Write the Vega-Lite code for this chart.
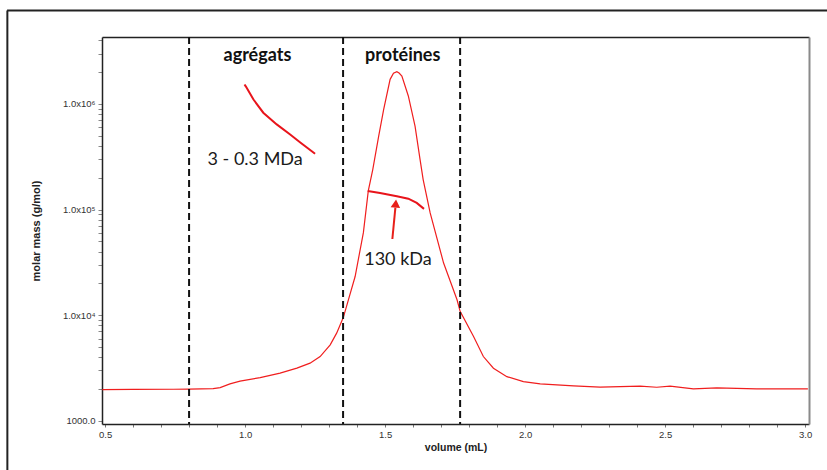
{
  "$schema": "https://vega.github.io/schema/vega-lite/v6.json",
  "width": 707,
  "height": 387,
  "autosize": "none",
  "padding": {"left": 102, "top": 37, "right": 18, "bottom": 46},
  "background": "white",
  "config": {"view": {"stroke": null}, "font": "Liberation Sans"},
  "datasets": {
    "signal": [
      {"volume": 0.49, "mass": 1970}, {"volume": 0.6, "mass": 1975}, {"volume": 0.743, "mass": 1985},
      {"volume": 0.8, "mass": 1990}, {"volume": 0.886, "mass": 2014}, {"volume": 0.911, "mass": 2056},
      {"volume": 0.946, "mass": 2230}, {"volume": 0.982, "mass": 2366}, {"volume": 1.054, "mass": 2559},
      {"volume": 1.125, "mass": 2821}, {"volume": 1.185, "mass": 3142}, {"volume": 1.232, "mass": 3505},
      {"volume": 1.268, "mass": 4050}, {"volume": 1.304, "mass": 5226}, {"volume": 1.327, "mass": 6745},
      {"volume": 1.351, "mass": 9530}, {"volume": 1.369, "mass": 13960}, {"volume": 1.393, "mass": 23200},
      {"volume": 1.4225, "mass": 60400}, {"volume": 1.44, "mass": 150000}, {"volume": 1.456, "mass": 239000},
      {"volume": 1.477, "mass": 494000}, {"volume": 1.495, "mass": 886000}, {"volume": 1.518, "mass": 1710000},
      {"volume": 1.53, "mass": 1950000}, {"volume": 1.542, "mass": 2020000}, {"volume": 1.55, "mass": 1960000},
      {"volume": 1.56, "mass": 1840000}, {"volume": 1.583, "mass": 1190000}, {"volume": 1.607, "mass": 615000},
      {"volume": 1.625, "mass": 297000}, {"volume": 1.636, "mass": 192000}, {"volume": 1.661, "mass": 92900},
      {"volume": 1.709, "mass": 31100}, {"volume": 1.757, "mass": 13960}, {"volume": 1.768, "mass": 10840},
      {"volume": 1.816, "mass": 6270}, {"volume": 1.851, "mass": 4050}, {"volume": 1.887, "mass": 3142},
      {"volume": 1.935, "mass": 2612}, {"volume": 1.994, "mass": 2344}, {"volume": 2.054, "mass": 2228},
      {"volume": 2.173, "mass": 2133}, {"volume": 2.268, "mass": 2074}, {"volume": 2.411, "mass": 2120},
      {"volume": 2.47, "mass": 2074}, {"volume": 2.518, "mass": 2120}, {"volume": 2.601, "mass": 2000},
      {"volume": 2.685, "mass": 2042}, {"volume": 2.827, "mass": 2000}, {"volume": 3.01, "mass": 2000}
    ],
    "aggregates": [
      {"volume": 0.998, "mass": 1530000}, {"volume": 1.003, "mass": 1460000}, {"volume": 1.03, "mass": 1100000},
      {"volume": 1.065, "mass": 826000}, {"volume": 1.113, "mass": 640000}, {"volume": 1.161, "mass": 514000},
      {"volume": 1.196, "mass": 434000}, {"volume": 1.25, "mass": 337000}
    ],
    "proteins": [
      {"volume": 1.438, "mass": 150000}, {"volume": 1.482, "mass": 143500}, {"volume": 1.542, "mass": 133300},
      {"volume": 1.583, "mass": 126700}, {"volume": 1.613, "mass": 115500}, {"volume": 1.639, "mass": 101400}
    ],
    "dividers": [{"volume": 0.8}, {"volume": 1.35}, {"volume": 1.768}],
    "boldLabels": [
      {"text": "agrégats", "volume": 1.044, "mass": 2850000},
      {"text": "protéines", "volume": 1.563, "mass": 2850000}
    ],
    "labels": [
      {"text": "3 - 0.3 MDa", "volume": 1.036, "mass": 297000},
      {"text": "130 kDa", "volume": 1.546, "mass": 33500}
    ],
    "arrow": [{"volume": 1.526, "mass": 52600, "volume2": 1.5368, "mass2": 104000}],
    "arrowhead": [{"volume": 1.538, "mass": 113800}]
  },
  "layer": [
    {
      "data": {"values": [{}]},
      "mark": {"type": "rule", "clip": false, "color": "#222", "strokeWidth": 2},
      "encoding": {
        "x": {"datum": 0.15, "type": "quantitative", "scale": {"domain": [0.489, 3.014], "nice": false, "zero": false}, "axis": null},
        "x2": {"datum": 3.2},
        "y": {"datum": 7670000, "type": "quantitative", "scale": {"type": "log", "domain": [930, 4305000], "nice": false}, "axis": null}
      }
    },
    {
      "data": {"values": [{}]},
      "mark": {"type": "rule", "clip": false, "color": "#222", "strokeWidth": 2},
      "encoding": {
        "x": {"datum": 0.151, "type": "quantitative", "axis": null},
        "y": {"datum": 7670000, "type": "quantitative", "axis": null},
        "y2": {"datum": 250}
      }
    },
    {
      "data": {"name": "signal"},
      "mark": {"type": "line", "color": "#f01e1e", "strokeWidth": 1.2},
      "encoding": {
        "x": {
          "field": "volume", "type": "quantitative",
          "axis": {
            "orient": "bottom",
            "values": [0.5, 0.6, 0.7, 0.8, 0.9, 1.0, 1.1, 1.2, 1.3, 1.4, 1.5, 1.6, 1.7, 1.8, 1.9, 2.0, 2.1, 2.2, 2.3, 2.4, 2.5, 2.6, 2.7, 2.8, 2.9, 3.0],
            "labelExpr": "(abs(datum.value * 2 - round(datum.value * 2)) < 0.01) ? format(datum.value, '.1f') : ''",
            "title": "volume (mL)",
            "titleFont": "Liberation Sans", "titleFontWeight": "bold", "titleFontSize": 10.5, "titleColor": "#222", "titlePadding": 4,
            "labelFont": "Liberation Sans", "labelFontSize": 9.5, "labelColor": "#333", "labelPadding": 2,
            "labelOverlap": false, "labelFlush": false,
            "tickSize": 3, "tickColor": "#777", "domainColor": "#222", "domainWidth": 1.5, "grid": false
          }
        },
        "y": {
          "field": "mass", "type": "quantitative",
          "axis": {
            "orient": "left",
            "values": [1000, 2000, 3000, 4000, 5000, 6000, 7000, 8000, 9000, 10000, 20000, 30000, 40000, 50000, 60000, 70000, 80000, 90000, 100000, 200000, 300000, 400000, 500000, 600000, 700000, 800000, 900000, 1000000, 2000000, 3000000, 4000000],
            "labelExpr": "datum.value == 1000 ? '1000.0' : datum.value == 10000 ? '1.0x10⁴' : datum.value == 100000 ? '1.0x10⁵' : datum.value == 1000000 ? '1.0x10⁶' : ''",
            "title": "molar mass (g/mol)",
            "titleFont": "Liberation Sans", "titleFontWeight": "bold", "titleFontSize": 11, "titleColor": "#222", "titlePadding": 21,
            "labelFont": "Liberation Sans", "labelFontSize": 9.5, "labelColor": "#333", "labelPadding": 3,
            "labelOverlap": false,
            "tickSize": 4, "tickColor": "#888", "domainColor": "#222", "domainWidth": 1.5, "grid": false
          }
        }
      }
    },
    {
      "data": {"name": "aggregates"},
      "mark": {"type": "line", "color": "#e8141b", "strokeWidth": 2},
      "encoding": {
        "x": {"field": "volume", "type": "quantitative",
          "axis": {"orient": "top", "labels": false, "ticks": false, "title": null, "grid": false, "domainColor": "#222", "domainWidth": 1.5}},
        "y": {"field": "mass", "type": "quantitative",
          "axis": {"orient": "right", "labels": false, "ticks": false, "title": null, "grid": false, "domainColor": "#8a8a8a", "domainWidth": 2}}
      }
    },
    {
      "data": {"name": "proteins"},
      "mark": {"type": "line", "color": "#e8141b", "strokeWidth": 2},
      "encoding": {
        "x": {"field": "volume", "type": "quantitative", "axis": null},
        "y": {"field": "mass", "type": "quantitative", "axis": null}
      }
    },
    {
      "data": {"name": "dividers"},
      "mark": {"type": "rule", "color": "#111", "strokeWidth": 2, "strokeDash": [7, 4]},
      "encoding": {
        "x": {"field": "volume", "type": "quantitative", "axis": null}
      }
    },
    {
      "data": {"name": "arrow"},
      "mark": {"type": "rule", "color": "#e8201a", "strokeWidth": 2},
      "encoding": {
        "x": {"field": "volume", "type": "quantitative", "axis": null},
        "y": {"field": "mass", "type": "quantitative", "axis": null},
        "x2": {"field": "volume2"},
        "y2": {"field": "mass2"}
      }
    },
    {
      "data": {"name": "arrowhead"},
      "mark": {"type": "point", "shape": "triangle-up", "filled": true, "color": "#e8201a", "size": 90, "angle": 5, "opacity": 1},
      "encoding": {
        "x": {"field": "volume", "type": "quantitative", "axis": null},
        "y": {"field": "mass", "type": "quantitative", "axis": null}
      }
    },
    {
      "data": {"name": "boldLabels"},
      "mark": {"type": "text", "font": "Lato", "fontSize": 18, "fontWeight": "bold", "color": "#111", "align": "center", "baseline": "middle"},
      "encoding": {
        "x": {"field": "volume", "type": "quantitative", "axis": null},
        "y": {"field": "mass", "type": "quantitative", "axis": null},
        "text": {"field": "text"}
      }
    },
    {
      "data": {"name": "labels"},
      "mark": {"type": "text", "font": "Lato", "fontSize": 18, "color": "#1a1a1a", "align": "center", "baseline": "middle"},
      "encoding": {
        "x": {"field": "volume", "type": "quantitative", "axis": null},
        "y": {"field": "mass", "type": "quantitative", "axis": null},
        "text": {"field": "text"}
      }
    }
  ],
  "resolve": {"axis": {"x": "independent", "y": "independent"}}
}
